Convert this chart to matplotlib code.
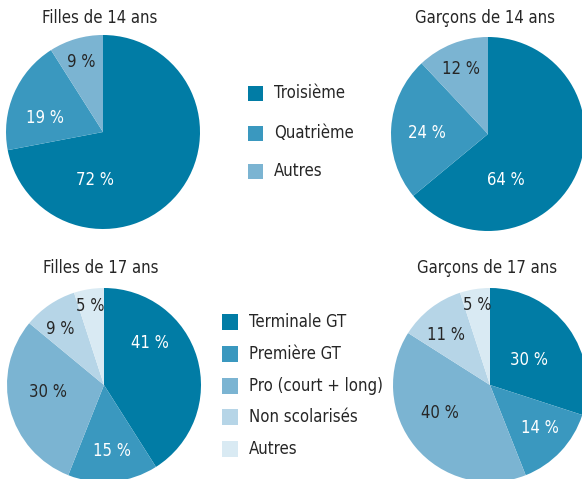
import matplotlib.pyplot as plt

# Donnees
titres = ["Filles de 14 ans", "Garçons de 14 ans", "Filles de 17 ans", "Garçons de 17 ans"]
cat_14 = ["Troisième", "Quatrième", "Autres"]
cat_17 = ["Terminale GT", "Première GT", "Pro (court + long)", "Non scolarisés", "Autres"]
filles_14 = [72, 19, 9]
garcons_14 = [64, 24, 12]
filles_17 = [41, 15, 30, 9, 5]
garcons_17 = [30, 14, 40, 11, 5]

couleurs = ["#017ca5", "#3a98bf", "#7bb4d2", "#b6d5e7", "#d9eaf3"]
txt_clair = [True, True, False, False, False]
gris = "#262626"

plt.rcParams['font.family'] = ['DejaVu Sans']
plt.rcParams['font.stretch'] = 'condensed'

W, H = 582, 479
fig = plt.figure(figsize=(W / 100, H / 100), dpi=100)
ax = fig.add_axes([0, 0, 1, 1])

R = 97
# centre de chaque camembert (pixels, y depuis le haut)
centres = [(103, 132), (488, 134), (104, 385), (490, 385)]
# position des etiquettes, en fraction du rayon
pos_etiq = [
    [(-0.08, -0.49), (-0.60, 0.14), (-0.22, 0.72)],
    [(0.18, -0.47), (-0.63, 0.01), (-0.28, 0.67)],
    [(0.47, 0.43), (0.08, -0.68), (-0.58, -0.07), (-0.45, 0.58), (-0.14, 0.81)],
    [(0.40, 0.26), (0.51, -0.44), (-0.52, -0.29), (-0.45, 0.52), (-0.13, 0.82)],
]
series = [filles_14, garcons_14, filles_17, garcons_17]

for i, vals in enumerate(series):
    cx, cy = centres[i]
    cy = H - cy
    ax.pie(vals, colors=couleurs[:len(vals)], startangle=90, counterclock=False,
           center=(cx, cy), radius=R, wedgeprops=dict(linewidth=0), frame=True)
    for j, v in enumerate(vals):
        dx, dy = pos_etiq[i][j]
        ax.text(cx + dx * R, cy + dy * R, f"{v} %", ha='center', va='center',
                fontsize=12, color='white' if txt_clair[j] else gris)
    ax.text(cx - 3, H - 18 if i < 2 else H - 268, titres[i], ha='center', va='center',
            fontsize=12, color=gris)

ax.set_xlim(0, W)
ax.set_ylim(0, H)
ax.set_aspect('equal')
ax.axis('off')

# Legendes
def legende(cats, x0, ys, taille):
    for k, c in enumerate(cats):
        y = H - ys[k]
        ax.add_patch(plt.Rectangle((x0, y - taille / 2), taille, taille,
                                   facecolor=couleurs[k], edgecolor='none'))
        ax.text(x0 + taille + 11, y, c, ha='left', va='center', fontsize=12, color=gris)

legende(cat_14, 248, [93, 133, 171], 15)
legende(cat_17, 222, [322, 354, 386, 417, 449], 16)

fig.savefig("out.png", dpi=100)
